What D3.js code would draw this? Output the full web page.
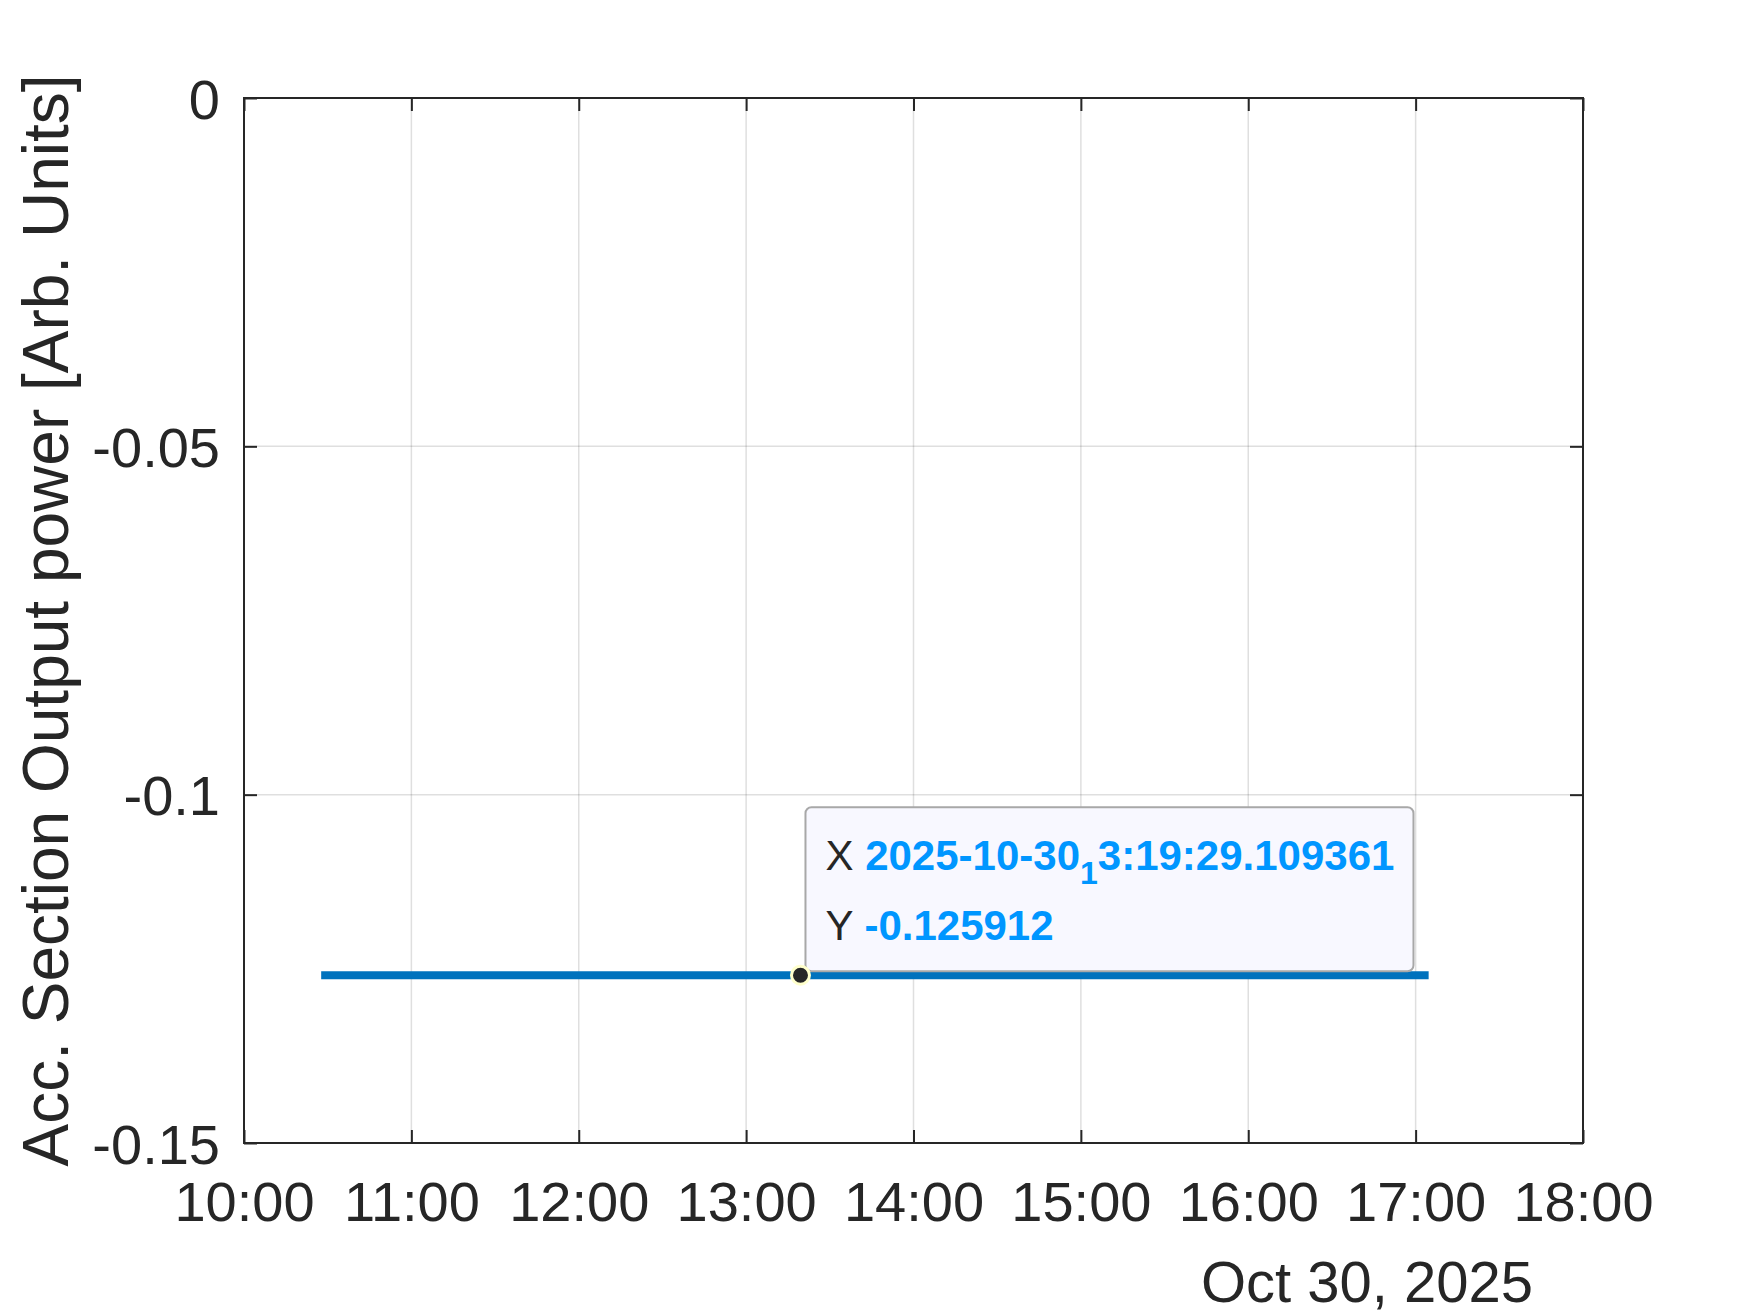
<!DOCTYPE html>
<html>
<head>
<meta charset="utf-8">
<script src="https://cdn.jsdelivr.net/npm/d3@7"></script>
<style>
  body { margin: 0; background: #fff; }
  text { font-family: "Liberation Sans", Arial, sans-serif; fill: #262626; }
</style>
</head>
<body>
<svg id="chart" width="1750" height="1313"></svg>
<script>
var times = ["2025-10-30T10:27:40", "2025-10-30T13:19:29.109", "2025-10-30T17:04:40"],
    values = [-0.125912, -0.125912, -0.125912],
    xTicks = ["10:00", "11:00", "12:00", "13:00", "14:00", "15:00", "16:00", "17:00", "18:00"],
    yTicks = [0, -0.05, -0.1, -0.15],
    tipTime = "2025-10-30T13:19:29.109",
    tipValue = -0.125912;

var svg = d3.select("#chart"),
    MARGINS = { top: 98, right: 167, bottom: 170, left: 244 },
    WIDTH = 1750,
    HEIGHT = 1313;

var parse = d3.isoParse;
var data = times.map(function(t, i) { return { t: parse(t), v: values[i] }; });

var xScale = d3.scaleTime()
    .domain([parse("2025-10-30T10:00:00"), parse("2025-10-30T18:00:00")])
    .range([MARGINS.left, WIDTH - MARGINS.right]);
var yScale = d3.scaleLinear()
    .domain([-0.15, 0])
    .range([HEIGHT - MARGINS.bottom, MARGINS.top]);

var x0 = MARGINS.left, x1 = WIDTH - MARGINS.right,
    y0 = MARGINS.top, y1 = HEIGHT - MARGINS.bottom;

var tickDates = xTicks.map(function(s) { return parse("2025-10-30T" + s + ":00"); });

// grid
var grid = svg.append("g").attr("stroke", "#262626").attr("stroke-opacity", 0.15).attr("stroke-width", 1.5);
tickDates.forEach(function(d) {
  grid.append("line").attr("x1", xScale(d)).attr("x2", xScale(d)).attr("y1", y0).attr("y2", y1);
});
yTicks.forEach(function(v) {
  grid.append("line").attr("x1", x0).attr("x2", x1).attr("y1", yScale(v)).attr("y2", yScale(v));
});

// axes (ticks inside, labels outside)
var xAxis = d3.axisBottom(xScale).tickValues(tickDates).tickFormat(d3.timeFormat("%H:%M"))
    .tickSizeInner(-13).tickSizeOuter(0).tickPadding(38);
var yAxis = d3.axisLeft(yScale).tickValues(yTicks).tickFormat(function(d) { return d === 0 ? "0" : d3.format("")(d).replace("\u2212", "-"); })
    .tickSizeInner(-13).tickSizeOuter(0).tickPadding(24);

var gx = svg.append("g").attr("transform", "translate(0," + y1 + ")").call(xAxis);
var gy = svg.append("g").attr("transform", "translate(" + x0 + ",0)").call(yAxis);
svg.append("g").attr("transform", "translate(0," + y0 + ")")
  .call(d3.axisTop(xScale).tickValues(tickDates).tickFormat("").tickSizeInner(-13).tickSizeOuter(0));
svg.append("g").attr("transform", "translate(" + x1 + ",0)")
  .call(d3.axisRight(yScale).tickValues(yTicks).tickFormat("").tickSizeInner(-13).tickSizeOuter(0));

svg.selectAll(".domain").remove();
svg.selectAll(".tick line").attr("stroke", "#262626").attr("stroke-width", 2);
[gx, gy].forEach(function(g) {
  g.selectAll(".tick text").attr("font-size", 56).attr("fill", "#262626")
    .style("font-family", "'Liberation Sans', Arial, sans-serif");
});
gy.selectAll(".tick text").attr("dy", "0.36em");

svg.append("rect").attr("x", x0).attr("y", y0).attr("width", x1 - x0).attr("height", y1 - y0)
  .attr("fill", "none").attr("stroke", "#262626").attr("stroke-width", 2);

// date secondary label
svg.append("text").attr("x", 1367).attr("y", 1302).attr("text-anchor", "middle")
  .attr("font-size", 58).text("Oct 30, 2025");

// y label
svg.append("text")
  .attr("transform", "translate(68," + ((y0 + y1) / 2) + ") rotate(-90)")
  .attr("text-anchor", "middle").attr("font-size", 64)
  .text("Acc. Section Output power [Arb. Units]");

// line
var line = d3.line().x(function(d) { return xScale(d.t); }).y(function(d) { return yScale(d.v); });
svg.append("path").datum(data).attr("d", line)
  .attr("fill", "none").attr("stroke", "#0072BD").attr("stroke-width", 8);

// datatip
var tx = xScale(parse(tipTime)), ty = yScale(tipValue);
var tip = svg.append("g");
tip.append("rect").attr("x", tx + 5).attr("y", ty - 168).attr("width", 608).attr("height", 164)
  .attr("rx", 6).attr("fill", "#f8f8ff").attr("stroke", "#a8a8a8").attr("stroke-width", 2);
var t1 = tip.append("text").attr("x", tx + 25).attr("y", ty - 105).attr("font-size", 42);
t1.append("tspan").text("X ");
t1.append("tspan").style("fill", "#0096ff").attr("font-weight", "bold").text("2025-10-30");
t1.append("tspan").style("fill", "#0096ff").attr("font-weight", "bold")
  .attr("font-size", 32).attr("dy", 14).text("1");
t1.append("tspan").style("fill", "#0096ff").attr("font-weight", "bold")
  .attr("dy", -14).text("3:19:29.109361");
var t2 = tip.append("text").attr("x", tx + 25).attr("y", ty - 35).attr("font-size", 42);
t2.append("tspan").text("Y ");
t2.append("tspan").style("fill", "#0096ff").attr("font-weight", "bold").text("-0.125912");

tip.append("circle").attr("cx", tx).attr("cy", ty).attr("r", 9)
  .attr("fill", "#262626").attr("stroke", "#ffffcc").attr("stroke-width", 3);
</script>
</body>
</html>
